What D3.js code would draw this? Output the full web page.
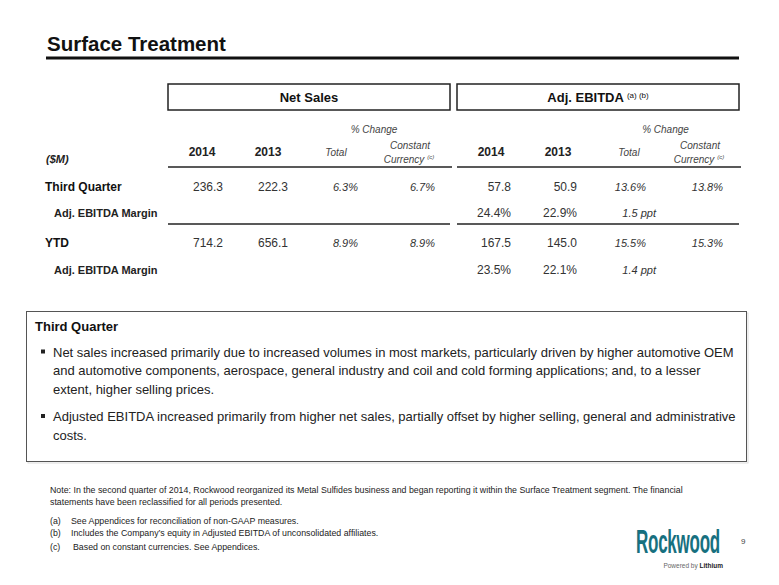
<!DOCTYPE html>
<html>
<head>
<meta charset="utf-8">
<script src="https://cdn.jsdelivr.net/npm/d3@7"></script>
<style>
  html, body { margin: 0; padding: 0; background: #fff; }
  svg { display: block; font-family: "Liberation Sans", Arial, sans-serif; }
</style>
</head>
<body>
<div id="slide"></div>
<script>
// ---- table data ----
const periods = ["Third Quarter", "YTD"];
const columnLabels = ["2014", "2013", "Total", "Constant"];

const salesCur = [236.3, 714.2];
const salesPrior = [222.3, 656.1];
const salesTotalChg = [6.3, 8.9];
const salesCcChg = [6.7, 8.9];

const ebitdaCur = [57.8, 167.5];
const ebitdaPrior = [50.9, 145.0];
const ebitdaTotalChg = [13.6, 15.5];
const ebitdaCcChg = [13.8, 15.3];

const marginCur = [24.4, 23.5];
const marginPrior = [22.9, 22.1];
const marginChg = [1.5, 1.4];

const bullets = [
  ["Net sales increased primarily due to increased volumes in most markets, particularly driven by higher automotive OEM",
   "and automotive components, aerospace, general industry and coil and cold forming applications; and, to a lesser",
   "extent, higher selling prices."],
  ["Adjusted EBITDA increased primarily from higher net sales, partially offset by higher selling, general and administrative",
   "costs."]
];

const notes = [
  ["", "Note: In the second quarter of 2014, Rockwood reorganized its Metal Sulfides business and began reporting it within the Surface Treatment segment. The financial"],
  ["", "statements have been reclassified for all periods presented."],
  ["(a)", "See Appendices for reconciliation of non-GAAP measures."],
  ["(b)", "Includes the Company\u2019s equity in Adjusted EBITDA  of unconsolidated affiliates."],
  ["(c)", "Based on constant currencies. See Appendices."]
];

(function () {
  const width = 779, height = 585;
  const svg = d3.select("#slide").append("svg")
    .attr("width", width)
    .attr("height", height);

  // Title
  svg.append("text")
    .attr("x", 47).attr("y", 51)
    .style("font-size", "20.5px").style("font-weight", "700").style("fill", "#111")
    .text("Surface Treatment");
  svg.append("line")
    .attr("x1", 46).attr("x2", 739).attr("y1", 58).attr("y2", 58)
    .attr("stroke", "#111").attr("stroke-width", 3);

  // Column scales (right edge of each value column)
  const netX = d3.scaleOrdinal().domain(columnLabels).range([223, 288, 358, 435]);
  const ebX = d3.scaleOrdinal().domain(columnLabels).range([511, 577, 646, 723]);
  const headNet = d3.scaleOrdinal().domain(columnLabels).range([202, 268, 336, 410]);
  const headEb = d3.scaleOrdinal().domain(columnLabels).range([491, 558, 629, 700]);

  // row scale: baselines
  const rowY = d3.scaleOrdinal()
    .domain(["Third Quarter", "Third Quarter margin", "YTD", "YTD margin"])
    .range([191, 217, 247, 274]);

  const groups = [
    { label: "Net Sales", x0: 168, x1: 450, head: headNet, sup: "" },
    { label: "Adj. EBITDA", x0: 457, x1: 739, head: headEb, sup: "(a) (b)" }
  ];

  groups.forEach(gr => {
    svg.append("rect")
      .attr("x", gr.x0).attr("y", 84)
      .attr("width", gr.x1 - gr.x0).attr("height", 26)
      .attr("fill", "#fff").attr("stroke", "#222").attr("stroke-width", 1.5);

    const t = svg.append("text")
      .attr("x", (gr.x0 + gr.x1) / 2).attr("y", 102)
      .attr("text-anchor", "middle")
      .style("font-size", "13px").style("font-weight", "700").style("fill", "#111");
    t.append("tspan").text(gr.label);
    if (gr.sup) {
      t.append("tspan").attr("dx", 3).attr("dy", -4)
        .style("font-size", "8px").style("font-weight", "400").text(gr.sup);
    }

    // % Change
    svg.append("text")
      .attr("x", (gr.head("Total") + gr.head("Constant")) / 2 + 1).attr("y", 133)
      .attr("text-anchor", "middle")
      .style("font-size", "10px").style("font-style", "italic").style("fill", "#444")
      .text("% Change");

    // column heads
    ["2014", "2013"].forEach(c => {
      svg.append("text")
        .attr("x", gr.head(c)).attr("y", 156)
        .attr("text-anchor", "middle")
        .style("font-size", "12px").style("font-weight", "700").style("fill", "#222")
        .text(c);
    });
    svg.append("text")
      .attr("x", gr.head("Total")).attr("y", 156)
      .attr("text-anchor", "middle")
      .style("font-size", "10px").style("font-style", "italic").style("fill", "#444")
      .text("Total");
    svg.append("text")
      .attr("x", gr.head("Constant")).attr("y", 149)
      .attr("text-anchor", "middle")
      .style("font-size", "10px").style("font-style", "italic").style("fill", "#444")
      .text("Constant");
    const cc = svg.append("text")
      .attr("x", gr.head("Constant") - 1).attr("y", 163)
      .attr("text-anchor", "middle")
      .style("font-size", "10px").style("font-style", "italic").style("fill", "#444");
    cc.append("tspan").text("Currency");
    cc.append("tspan").attr("dx", 3).attr("dy", -4).style("font-size", "6px").text("(c)");

    svg.append("line")
      .attr("x1", gr.x0).attr("x2", gr.x1 + 2).attr("y1", 167).attr("y2", 167)
      .attr("stroke", "#222").attr("stroke-width", 1.5);
    svg.append("line")
      .attr("x1", gr.x0).attr("x2", gr.x1).attr("y1", 224).attr("y2", 224)
      .attr("stroke", "#222").attr("stroke-width", 1.5);
  });

  svg.append("text")
    .attr("x", 46).attr("y", 163)
    .style("font-size", "11px").style("font-weight", "700").style("font-style", "italic").style("fill", "#222")
    .text("($M)");

  const fmt = d3.format(".1f");
  const pct = v => fmt(v) + "%";

  function cell(x, y, txt, italic) {
    svg.append("text")
      .attr("x", x).attr("y", y)
      .attr("text-anchor", "end")
      .style("font-size", italic ? "11px" : "12px")
      .style("font-style", italic ? "italic" : "normal")
      .style("fill", "#333")
      .text(txt);
  }

  periods.forEach((p, i) => {
    const y = rowY(p);
    const ym = rowY(p + " margin");

    svg.append("text")
      .attr("x", 45).attr("y", y)
      .style("font-size", "12px").style("font-weight", "700").style("fill", "#111")
      .text(p);
    svg.append("text")
      .attr("x", 54).attr("y", ym)
      .style("font-size", "11px").style("font-weight", "700").style("fill", "#222")
      .text("Adj. EBITDA Margin");

    cell(netX("2014"), y, fmt(salesCur[i]));
    cell(netX("2013"), y, fmt(salesPrior[i]));
    cell(netX("Total"), y, pct(salesTotalChg[i]), true);
    cell(netX("Constant"), y, pct(salesCcChg[i]), true);

    cell(ebX("2014"), y, fmt(ebitdaCur[i]));
    cell(ebX("2013"), y, fmt(ebitdaPrior[i]));
    cell(ebX("Total"), y, pct(ebitdaTotalChg[i]), true);
    cell(ebX("Constant"), y, pct(ebitdaCcChg[i]), true);

    cell(ebX("2014"), ym, pct(marginCur[i]));
    cell(ebX("2013"), ym, pct(marginPrior[i]));
    cell(ebX("Total") + 10, ym, fmt(marginChg[i]) + " ppt", true);
  });

  // Commentary box
  svg.append("rect")
    .attr("x", 28).attr("y", 313).attr("width", 720).attr("height", 150)
    .attr("fill", "none").attr("stroke", "#ddd").attr("stroke-width", 1);
  svg.append("rect")
    .attr("x", 26.5).attr("y", 311.5).attr("width", 720).attr("height", 150)
    .attr("fill", "#fff").attr("stroke", "#555").attr("stroke-width", 1);

  svg.append("text")
    .attr("x", 35).attr("y", 331)
    .style("font-size", "13px").style("font-weight", "700").style("fill", "#111")
    .text("Third Quarter");

  const lineStarts = [[356.5, 375, 393.5], [421, 439.5]];
  bullets.forEach((lines, b) => {
    svg.append("rect")
      .attr("x", 41).attr("y", lineStarts[b][0] - 7)
      .attr("width", 4).attr("height", 4)
      .attr("fill", "#222");
    lines.forEach((ln, j) => {
      svg.append("text")
        .attr("x", 53).attr("y", lineStarts[b][j])
        .style("font-size", "13px").style("fill", "#222")
        .text(ln);
    });
  });

  // Footnotes
  const noteY = [492.5, 504.5, 524, 536, 549.5];
  notes.forEach((n, i) => {
    if (n[0]) {
      svg.append("text")
        .attr("x", 50).attr("y", noteY[i])
        .style("font-size", "8.8px").style("fill", "#222")
        .text(n[0]);
    }
    svg.append("text")
      .attr("x", n[0] ? (i === 4 ? 73 : 71) : 50).attr("y", noteY[i])
      .style("font-size", "8.8px").style("fill", "#222")
      .text(n[1]);
  });

  // Logo (condensed by a horizontal scale)
  svg.append("text")
    .attr("transform", "translate(636,553) scale(0.5,1)")
    .style("font-size", "34px").style("font-weight", "700").style("fill", "#17707f")
    .style("letter-spacing", "-0.5px")
    .text("Rockwood");
  const pb = svg.append("text")
    .attr("x", 723).attr("y", 567.5)
    .attr("text-anchor", "end")
    .style("font-size", "6.5px").style("fill", "#666");
  pb.append("tspan").text("Powered by ");
  pb.append("tspan").style("font-weight", "700").style("fill", "#222").text("Lithium");

  svg.append("text")
    .attr("x", 741).attr("y", 544)
    .style("font-size", "8px").style("fill", "#444")
    .text("9");
})();
</script>
</body>
</html>
